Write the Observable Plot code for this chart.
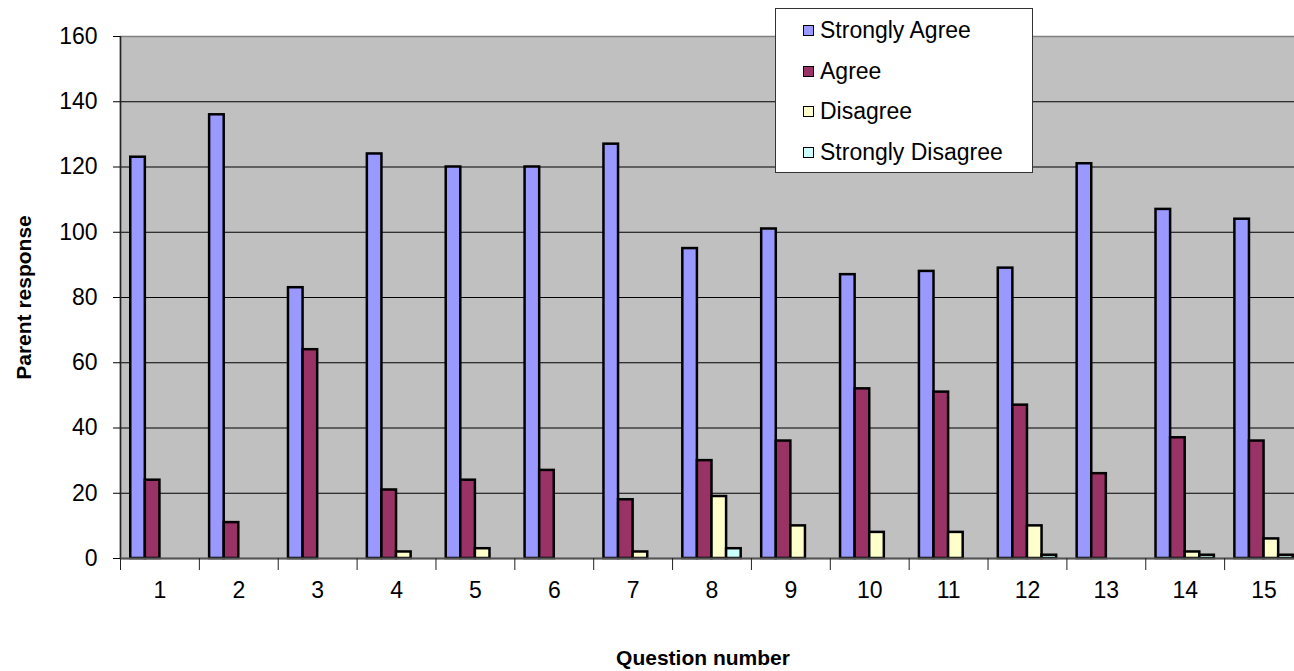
<!DOCTYPE html>
<html>
<head>
<meta charset="utf-8">
<script src="https://cdn.jsdelivr.net/npm/d3@7"></script>
<script src="https://cdn.jsdelivr.net/npm/@observablehq/plot@0.6"></script>
<style>
  html, body { margin: 0; padding: 0; background: white; overflow: hidden; }
  #wrap { position: relative; width: 1294px; height: 671px; }
  #legend {
    position: absolute; left: 775px; top: 8px; width: 258px; height: 165px;
    background: white; border: 1px solid #333; box-sizing: border-box;
    font-family: "Liberation Sans", Arial, sans-serif; font-size: 23px; color: black;
    padding-top: 1px;
  }
  .row { display: flex; align-items: center; height: 40.7px; padding-left: 27px; }
  .sw { width: 9px; height: 9px; border: 1.5px solid black; margin-right: 6px; }
</style>
</head>
<body>
<div id="wrap"><div id="legend"></div></div>
<script>
const questions = ["1","2","3","4","5","6","7","8","9","10","11","12","13","14","15"];
const series = ["Strongly Agree","Agree","Disagree","Strongly Disagree"];
const stronglyAgree    = [123,136,83,124,120,120,127,95,101,87,88,89,121,107,104];
const agree            = [24,11,64,21,24,27,18,30,36,52,51,47,26,37,36];
const disagree         = [0,0,0,2,3,0,2,19,10,8,8,10,0,2,6];
const stronglyDisagree = [0,0,0,0,0,0,0,3,0,0,0,1,0,1,1];
const colors = ["#9999FF","#993366","#FFFFCC","#CCFFFF"];
const yTicks = [0,20,40,60,80,100,120,140,160];

const values = [stronglyAgree, agree, disagree, stronglyDisagree];
const data = questions.flatMap((q, i) => series.map((s, j) => ({q, i, s, j, v: values[j][i]})))
  .filter(d => d.v > 0);

const w = 0.185;               // bar width as a fraction of a category slot
const pad = (1 - series.length * w) / 2;
const font = "Liberation Sans, Arial, sans-serif";

const chart = Plot.plot({
  width: 1294,
  height: 671,
  marginLeft: 120,
  marginTop: 36,
  marginBottom: 113,
  marginRight: -9,
  style: {fontFamily: font, fontSize: "23px", background: "white", color: "black"},
  x: {type: "linear", domain: [0, questions.length]},
  y: {domain: [0, 160]},
  color: {domain: series, range: colors},
  marks: [
    Plot.frame({fill: "#C0C0C0", stroke: "#808080", strokeWidth: 1.5}),
    Plot.gridY(yTicks.filter(t => t > 0 && t < 160), {stroke: "black", strokeOpacity: 1}),
    Plot.rectY(data, {
      x1: d => d.i + pad + d.j * w,
      x2: d => d.i + pad + (d.j + 1) * w,
      y: "v", fill: "s", stroke: "black", strokeWidth: 2.5
    }),
    Plot.ruleX([0], {stroke: "#222", strokeWidth: 1.5}),
    Plot.ruleY([0], {stroke: "#555", strokeWidth: 2}),
    Plot.axisY(yTicks, {tickSize: 7, tickPadding: 16, label: null, stroke: "black"}),
    Plot.axisX(d3.range(questions.length + 1), {tickSize: 12, tickFormat: () => "", label: null, stroke: "#222"}),
    Plot.axisX(questions.map((q, i) => i + 0.5), {tickSize: 0, tickPadding: 23, tickFormat: d => questions[Math.floor(d)], label: null}),
    Plot.text(["Parent response"], {text: d => d, frameAnchor: "left", dx: -96, rotate: -90,
      textAnchor: "middle", lineAnchor: "middle", fontWeight: "bold", fontSize: 21}),
    Plot.text(["Question number"], {text: d => d, frameAnchor: "bottom", dy: 100, dx: -9,
      textAnchor: "middle", lineAnchor: "middle", fontWeight: "bold", fontSize: 21})
  ]
});
document.getElementById("wrap").prepend(chart);

const legend = document.getElementById("legend");
series.forEach((s, j) => {
  const row = document.createElement("div");
  row.className = "row";
  const sw = document.createElement("div");
  sw.className = "sw";
  sw.style.background = colors[j];
  const t = document.createElement("span");
  t.textContent = s;
  row.append(sw, t);
  legend.append(row);
});
</script>
</body>
</html>
